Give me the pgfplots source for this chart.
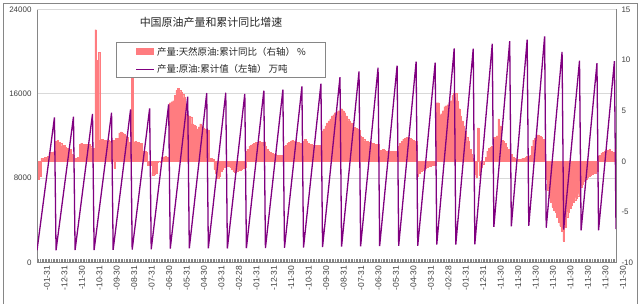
\documentclass[border=0pt]{standalone}
\usepackage{pgfplots}
\pgfplotsset{compat=1.18}
\usepackage{fontspec}
\setmainfont{Liberation Sans}
\newfontfamily\cjk{Noto Sans CJK SC}
\definecolor{barc}{RGB}{255,124,128}
\definecolor{linec}{RGB}{128,0,128}
\definecolor{gridc}{RGB}{217,217,217}
\definecolor{axc}{RGB}{134,134,134}
\definecolor{txtc}{RGB}{64,64,64}
\begin{document}
\begin{tikzpicture}[x=1bp,y=1bp]
\useasboundingbox (0bp,0bp) rectangle (640bp,304bp);
\clip (0bp,0bp) rectangle (640bp,304bp);
\draw[axc, line width=0.8bp] (3.3bp,-5bp) -- (3.3bp,300.7bp) -- (637.5bp,300.7bp) -- (637.5bp,-5bp);
\begin{axis}[
  name=bars,
  at={(37bp,41.5bp)}, anchor=south west,
  scale only axis, width=579bp, height=253bp,
  xmin=0, xmax=365, ymin=-10, ymax=15,
  axis x line*=bottom, axis y line*=right,
  ytick={-10,-5,0,5,10,15},
  extra y ticks={-1.666667,6.666667,15},
  extra y tick labels={},
  extra y tick style={grid=major, grid style={gridc, line width=0.8bp}},
  xtick={0,11,...,363},
  xticklabels={-01-31,-12-31,-11-30,-10-31,-09-30,-08-31,-07-31,-06-30,-05-31,-04-30,-03-31,-02-28,-01-31,-12-31,-11-30,-10-31,-09-30,-08-31,-07-31,-06-30,-05-31,-04-30,-03-31,-02-28,-01-31,-12-31,-11-30,-11-30,-11-30,-11-30,-11-30,-11-30,-11-30,-11-30},
  xticklabel style={rotate=90, anchor=east, font=\fontsize{8.5}{9}\selectfont, text=txtc, yshift=-10bp},
  minor xtick={0,1,...,365},
  tick align=inside, major tick length=3bp, minor tick length=3bp,
  xtick style={axc, line width=0.4bp},
  minor x tick style={axc, line width=0.4bp},
  ytick style={draw=none},
  axis line style={axc, line width=0.8bp},
  yticklabel style={font=\fontsize{8}{9}\selectfont, text=txtc, xshift=2bp},
  /pgf/number format/assume math mode=true,
]
\addplot[ybar, bar width=1, bar shift=0pt, fill=barc, draw=barc, line width=0.1bp] coordinates {
(0,-0.6) (1,-1.8) (2,-1.5) (3,0.3) (4,0.2) (5,0.4) (6,0.3) (7,0.5) (8,0.8) (9,0.9) (10,0.9) (11,1.0)
(12,2.0) (13,2.1) (14,1.9) (15,1.8) (16,1.5) (17,1.6) (18,1.4) (19,1.3) (20,1.3) (21,1.2) (22,0.7) (23,0.6)
(24,0.3) (25,0.3) (26,0.4) (27,1.7) (28,1.8) (29,1.7) (30,1.6) (31,1.7) (32,1.6) (33,1.7) (34,1.5) (35,1.3)
(36,1.3) (37,13.0) (38,10.0) (39,10.8) (40,2.1) (41,2.2) (42,2.0) (43,2.1) (44,2.0) (45,2.1) (46,2.0) (47,2.0)
(48,2.1) (49,-0.7) (50,2.3) (51,2.3) (52,2.8) (53,2.9) (54,2.8) (55,2.7) (56,2.5) (57,2.4) (58,1.9) (59,1.8)
(60,8.3) (61,1.9) (62,2.0) (63,1.9) (64,1.9) (65,1.8) (66,1.8) (67,1.0) (68,1.0) (69,0.9) (70,-0.4) (71,-0.3)
(72,-0.4) (73,-1.4) (74,-1.3) (75,-1.2) (76,-0.1) (77,0.0) (78,-0.1) (79,0.4) (80,0.4) (81,0.5) (82,0.4) (83,0.4)
(84,5.8) (85,5.9) (86,6.0) (87,6.5) (88,7.0) (89,7.2) (90,7.0) (91,6.8) (92,6.6) (93,6.3) (94,4.7) (95,4.6)
(96,4.5) (97,4.4) (98,3.7) (99,3.6) (100,3.5) (101,3.2) (102,3.4) (103,3.7) (104,3.5) (105,3.3) (106,3.2) (107,3.0)
(108,3.1) (109,0.3) (110,0.3) (111,0.2) (112,-0.8) (113,-1.2) (114,-1.7) (115,-1.5) (116,-1.0) (117,-0.8) (118,-0.6) (119,-0.5)
(120,-0.4) (121,-0.5) (122,-0.6) (123,-0.8) (124,-1.0) (125,-1.1) (126,-1.0) (127,-0.9) (128,-0.9) (129,-0.8) (130,-0.7) (131,-0.6)
(132,1.0) (133,1.2) (134,1.5) (135,1.6) (136,1.7) (137,1.8) (138,1.9) (139,1.9) (140,2.0) (141,1.9) (142,1.9) (143,1.9)
(144,1.5) (145,1.2) (146,1.0) (147,0.9) (148,0.8) (149,0.7) (150,0.7) (151,0.6) (152,0.6) (153,0.6) (154,0.6) (155,0.6)
(156,1.5) (157,1.6) (158,1.8) (159,1.9) (160,2.0) (161,2.1) (162,2.0) (163,2.0) (164,1.9) (165,1.9) (166,1.8) (167,1.8)
(168,2.0) (169,2.2) (170,2.0) (171,1.8) (172,1.7) (173,1.7) (174,1.6) (175,1.6) (176,1.6) (177,1.6) (178,1.6) (179,1.6)
(180,3.0) (181,3.2) (182,3.5) (183,3.8) (184,4.0) (185,4.2) (186,4.5) (187,4.6) (188,4.8) (189,4.9) (190,5.0) (191,5.0)
(192,5.2) (193,5.0) (194,4.8) (195,4.5) (196,4.2) (197,4.0) (198,3.8) (199,3.6) (200,3.4) (201,3.3) (202,3.2) (203,3.1)
(204,2.5) (205,2.4) (206,2.2) (207,2.0) (208,2.0) (209,1.9) (210,1.9) (211,1.8) (212,1.8) (213,1.7) (214,1.7) (215,1.7)
(216,1.0) (217,1.1) (218,1.2) (219,1.1) (220,1.0) (221,1.0) (222,1.0) (223,1.0) (224,1.0) (225,1.0) (226,1.0) (227,1.0)
(228,1.5) (229,1.8) (230,2.0) (231,2.2) (232,2.3) (233,2.4) (234,2.4) (235,2.3) (236,2.2) (237,2.1) (238,2.0) (239,2.0)
(240,-1.5) (241,-1.2) (242,-1.0) (243,-0.9) (244,-0.8) (245,-0.7) (246,-0.6) (247,-0.5) (248,-0.5) (249,-0.4) (250,-0.4) (251,-0.4)
(252,5.8) (253,5.8) (254,4.6) (255,4.7) (256,5.0) (257,5.4) (258,5.5) (259,5.6) (260,5.8) (261,6.0) (262,6.5) (263,6.7)
(264,6.7) (265,6.0) (266,5.2) (267,4.5) (268,4.0) (269,3.5) (270,3.0) (271,2.4) (272,2.0) (273,1.2) (274,0.7) (275,0.3)
(276,-1.3) (277,-1.6) (278,3.3) (279,-1.4) (280,-0.6) (281,-0.3) (282,0.0) (283,0.4) (284,1.0) (285,1.3) (286,1.4) (287,1.5)
(288,2.4) (289,2.4) (290,2.5) (291,4.2) (292,3.5) (293,2.1) (294,2.0) (295,1.8) (296,1.4) (297,1.2) (298,1.0)
(299,0.7) (300,0.4) (301,0.3) (302,0.2) (303,0.2) (304,0.2) (305,0.2) (306,0.3) (307,0.3) (308,0.4) (309,0.5)
(310,0.5) (311,0.6) (312,1.5) (313,2.1) (314,2.3) (315,2.5) (316,2.6) (317,2.5) (318,2.4) (319,2.2) (320,2.1)
(321,-1.8) (322,-2.8) (323,-3.5) (324,-4.0) (325,-4.5) (326,-4.8) (327,-5.0) (328,-5.5) (329,-6.0) (330,-6.4) (331,-6.9)
(332,-7.9) (333,-6.5) (334,-5.5) (335,-5.0) (336,-4.6) (337,-4.3) (338,-4.0) (339,-3.8) (340,-3.6) (341,-3.4) (342,-3.2)
(343,-2.5) (344,-2.2) (345,-2.0) (346,-1.8) (347,-1.6) (348,-1.5) (349,-1.4) (350,-1.3) (351,-1.2) (352,-1.2) (353,-1.0)
(354,0.5) (355,0.6) (356,0.8) (357,0.9) (358,1.0) (359,1.1) (360,1.1) (361,1.2) (362,1.0) (363,0.9) (364,0.9)
(365,1.2)
};
\end{axis}
\begin{axis}[
  at={(bars.south west)}, anchor=south west,
  scale only axis, width=579bp, height=253bp,
  xmin=0, xmax=365, ymin=0, ymax=24000,
  hide x axis, axis y line*=left,
  ytick={0,8000,16000,24000},
  scaled y ticks=false,
  ytick style={draw=none},
  axis line style={axc, line width=0.8bp},
  yticklabel style={font=\fontsize{8}{9}\selectfont, text=txtc, xshift=-2bp, /pgf/number format/fixed, /pgf/number format/1000 sep={}},
  /pgf/number format/assume math mode=true,
]
\addplot[linec, line width=1.3bp] coordinates {
(0,1147) (11,13764) (12,1153) (23,13831) (24,1175) (35,14099) (36,1184) (47,14210)
(48,1210) (59,14524) (60,1217) (71,14608) (72,1250) (83,15005) (84,1311) (95,15733)
(96,1340) (107,16074) (108,1342) (119,16100) (120,1333) (131,16000) (132,1358) (143,16300)
(144,1366) (155,16396) (156,1392) (167,16700) (168,1413) (179,16960) (180,1466) (191,17587)
(192,1511) (203,18135) (204,1540) (215,18477) (216,1556) (227,18666) (228,1587) (239,19044)
(240,1579) (251,18949) (252,1692) (263,20301) (264,1691) (275,20288) (276,1729) (287,20748)
(288,3380) (298,20992) (299,3424) (309,21143) (310,3473) (320,21456) (321,3300) (331,19969)
(332,3120) (342,19151) (343,3050) (353,18911) (354,3060) (364,19101) (365,3160)
};
\end{axis}
\node[font=\cjk\fontsize{11}{13}\selectfont, text=black!85] at (211bp,281.3bp) {中国原油产量和累计同比增速};
\draw[axc, line width=0.6bp, fill=white] (116bp,261.3bp) rectangle (325bp,226.7bp);
\fill[barc] (136bp,249bp) rectangle (154bp,256bp);
\draw[linec, line width=1.3bp] (136bp,234.7bp) -- (154bp,234.7bp);
\node[anchor=west, inner sep=0pt, font=\cjk\fontsize{9.5}{11}\selectfont, text=black!85] at (157bp,252.5bp) {产量:天然原油:累计同比（右轴） \%};
\node[anchor=west, inner sep=0pt, font=\cjk\fontsize{9.5}{11}\selectfont, text=black!85] at (157bp,234.7bp) {产量:原油:累计值（左轴）  万吨};
\end{tikzpicture}
\end{document}
